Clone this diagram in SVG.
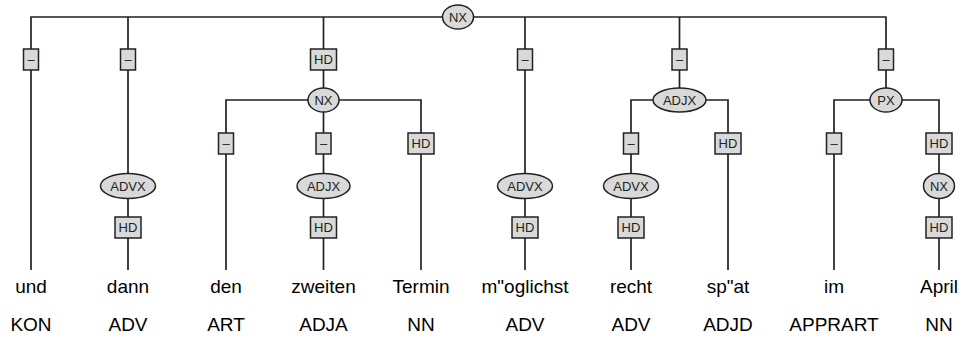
<svg xmlns="http://www.w3.org/2000/svg" width="962" height="338" viewBox="0 0 962 338">
<style>
.e{stroke:#222;stroke-width:1.7;fill:none}
.b{fill:#d9d9d9;stroke:#222;stroke-width:1.5}
.l{font-family:"Liberation Sans",Arial,sans-serif;font-size:13px;fill:#222;text-anchor:middle}
.w{font-family:"Liberation Sans",Arial,sans-serif;font-size:19px;fill:#000;text-anchor:middle}
</style>
<rect width="962" height="338" fill="#fff"/>
<g id="connectors" class="e">
<path d="M31,270V17H886V60"/>
<path d="M128,17V270"/>
<path d="M323.5,17V100"/>
<path d="M525,17V270"/>
<path d="M679.5,17V100"/>
<path d="M226,270V100H421V270"/>
<path d="M323.5,100V270"/>
<path d="M631,270V100H728V270"/>
<path d="M834,270V100H939V270"/>
<path d="M886,60V100"/>
</g>
<g id="n_root"><ellipse class="b" cx="458" cy="17" rx="15.5" ry="12"/><text class="l" x="458" y="21.5">NX</text></g>
<g id="e_und"><rect class="b" x="23.5" y="49" width="15" height="21"/><text class="l" x="31" y="64">–</text></g>
<g id="e_dann"><rect class="b" x="120.5" y="49" width="15" height="21"/><text class="l" x="128" y="64">–</text></g>
<g id="e_nx"><rect class="b" x="310.5" y="49" width="26" height="21"/><text class="l" x="323.5" y="64">HD</text></g>
<g id="e_mogl"><rect class="b" x="517.5" y="49" width="15" height="21"/><text class="l" x="525" y="64">–</text></g>
<g id="e_adjx"><rect class="b" x="672" y="49" width="15" height="21"/><text class="l" x="679.5" y="64">–</text></g>
<g id="e_px"><rect class="b" x="878.5" y="49" width="15" height="21"/><text class="l" x="886" y="64">–</text></g>
<g id="n_nx"><ellipse class="b" cx="323.5" cy="100" rx="15.5" ry="12"/><text class="l" x="323.5" y="104.5">NX</text></g>
<g id="n_adjx1"><ellipse class="b" cx="679.5" cy="100" rx="26.5" ry="12"/><text class="l" x="679.5" y="104.5">ADJX</text></g>
<g id="n_px"><ellipse class="b" cx="886" cy="100" rx="16" ry="12"/><text class="l" x="886" y="104.5">PX</text></g>
<g id="e_den"><rect class="b" x="218.5" y="133" width="15" height="21"/><text class="l" x="226" y="148">–</text></g>
<g id="e_zweiten"><rect class="b" x="316" y="133" width="15" height="21"/><text class="l" x="323.5" y="148">–</text></g>
<g id="e_termin"><rect class="b" x="408" y="133" width="26" height="21"/><text class="l" x="421" y="148">HD</text></g>
<g id="e_recht"><rect class="b" x="623.5" y="133" width="15" height="21"/><text class="l" x="631" y="148">–</text></g>
<g id="e_spat"><rect class="b" x="715" y="133" width="26" height="21"/><text class="l" x="728" y="148">HD</text></g>
<g id="e_im"><rect class="b" x="826.5" y="133" width="15" height="21"/><text class="l" x="834" y="148">–</text></g>
<g id="e_april"><rect class="b" x="926" y="133" width="26" height="21"/><text class="l" x="939" y="148">HD</text></g>
<g id="n_advx1"><ellipse class="b" cx="128" cy="186" rx="27.5" ry="12.5"/><text class="l" x="128" y="190.5">ADVX</text></g>
<g id="n_adjx2"><ellipse class="b" cx="323.5" cy="186" rx="26.5" ry="12.5"/><text class="l" x="323.5" y="190.5">ADJX</text></g>
<g id="n_advx2"><ellipse class="b" cx="525" cy="186" rx="27.5" ry="12.5"/><text class="l" x="525" y="190.5">ADVX</text></g>
<g id="n_advx3"><ellipse class="b" cx="631" cy="186" rx="27.5" ry="12.5"/><text class="l" x="631" y="190.5">ADVX</text></g>
<g id="n_nx2"><ellipse class="b" cx="939" cy="186" rx="15.5" ry="12.5"/><text class="l" x="939" y="190.5">NX</text></g>
<g id="h_dann"><rect class="b" x="115" y="217" width="26" height="21"/><text class="l" x="128" y="232">HD</text></g>
<g id="h_zweiten"><rect class="b" x="310.5" y="217" width="26" height="21"/><text class="l" x="323.5" y="232">HD</text></g>
<g id="h_mogl"><rect class="b" x="512" y="217" width="26" height="21"/><text class="l" x="525" y="232">HD</text></g>
<g id="h_recht"><rect class="b" x="618" y="217" width="26" height="21"/><text class="l" x="631" y="232">HD</text></g>
<g id="h_april"><rect class="b" x="926" y="217" width="26" height="21"/><text class="l" x="939" y="232">HD</text></g>
<g id="words" class="w">
<text x="31" y="293">und</text><text x="128" y="293">dann</text><text x="226" y="293">den</text><text x="323.5" y="293">zweiten</text><text x="421" y="293">Termin</text><text x="525" y="293">m"oglichst</text><text x="631" y="293">recht</text><text x="728" y="293">sp"at</text><text x="834" y="293">im</text><text x="939" y="293">April</text>
</g>
<g id="tags" class="w">
<text x="31" y="331">KON</text><text x="128" y="331">ADV</text><text x="226" y="331">ART</text><text x="323.5" y="331">ADJA</text><text x="421" y="331">NN</text><text x="525" y="331">ADV</text><text x="631" y="331">ADV</text><text x="728" y="331">ADJD</text><text x="834" y="331">APPRART</text><text x="939" y="331">NN</text>
</g>
</svg>
